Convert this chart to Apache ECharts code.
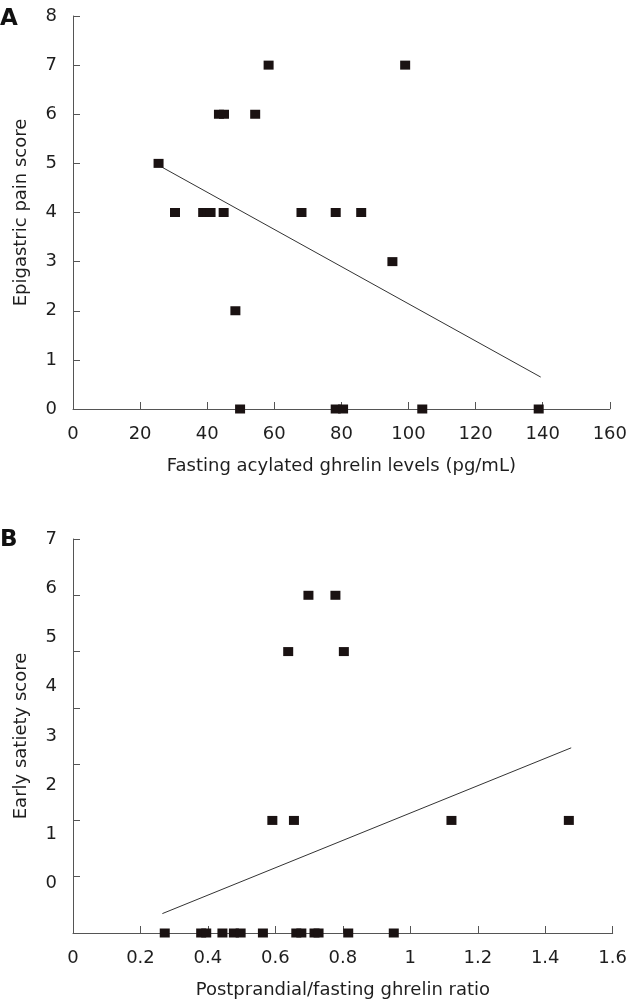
<!DOCTYPE html>
<html><head><meta charset="utf-8">
<script src="https://cdn.jsdelivr.net/npm/echarts@6/dist/echarts.min.js"></script>
<style>html,body{margin:0;padding:0;background:#fff}#c{width:630px;height:1001px}</style>
</head><body><div id="c"></div>
<script>
// Panel A: fasting acylated ghrelin (pg/mL) vs epigastric pain score
const pointsA = [
  [25.5,5],[30.4,4],[38.8,4],[40,4],[41,4],[44.9,4],[43.5,6],[45,6],[54.3,6],[58.3,7],
  [68.1,4],[48.4,2],[49.8,0],[78.3,4],[85.9,4],[99.0,7],[95.2,3],[78.3,0],[80.5,0],[104.1,0],[138.8,0]
];
const fitA = [[25.8,4.95],[139.4,0.65]];
const xTicksA = {min:0,max:160,interval:20};
const yTicksA = {min:0,max:8,interval:1};

// Panel B: postprandial/fasting ghrelin ratio vs early satiety score (plotted on tick scale)
const pointsB = [
  [0.272,0],[0.380,0],[0.395,0],[0.443,0],[0.477,0],[0.497,0],[0.563,0],[0.662,0],[0.677,0],
  [0.716,0],[0.728,0],[0.816,0],[0.951,0],
  [0.591,2],[0.655,2],[1.122,2],[1.470,2],
  [0.638,5],[0.803,5],[0.698,6],[0.778,6]
];
const fitB = [[0.265,0.345],[1.477,3.29]];
const xTicksB = {min:0,max:1.6,interval:0.2};
const yTicksB = {min:0,max:7,interval:1};
// printed y labels of panel B (misaligned with the ticks in the original)
const yLabelAxisB = {min:-1,max:7,interval:1};
const yLabelsB = ['0','1','2','3','4','5','6','7'];

const FONT = 'DejaVu Sans';
const axisColor = '#555';
const txt = '#1e1e1e';

function xAxis(grid, t, name){
  return {type:'value', gridIndex:grid, min:t.min, max:t.max, interval:t.interval,
    name:name, nameLocation:'middle', nameGap:48,
    nameTextStyle:{fontFamily:FONT,fontSize:18,color:txt},
    axisLine:{show:true,lineStyle:{color:axisColor,width:1}},
    axisTick:{show:true,inside:true,length:7,lineStyle:{color:axisColor}},
    axisLabel:{fontFamily:FONT,fontSize:18,color:txt,margin:16},
    splitLine:{show:false}};
}
function yAxis(grid, t, name, showLabel){
  return {type:'value', gridIndex:grid, min:t.min, max:t.max, interval:t.interval,
    name:name, nameLocation:'middle', nameGap:43,
    nameTextStyle:{fontFamily:FONT,fontSize:18,color:txt},
    axisLine:{show:true,lineStyle:{color:axisColor,width:1}},
    axisTick:{show:true,inside:true,length:7,lineStyle:{color:axisColor}},
    axisLabel:{show:showLabel,fontFamily:FONT,fontSize:18,color:txt,margin:16},
    splitLine:{show:false}};
}

const chart = echarts.init(document.getElementById('c'), null, {renderer:'canvas'});
const yB = yAxis(1, yTicksB, 'Early satiety score', false);
const yBLabels = {type:'value', gridIndex:1, min:yLabelAxisB.min, max:yLabelAxisB.max, interval:yLabelAxisB.interval,
  position:'left', axisLine:{show:false}, axisTick:{show:false}, splitLine:{show:false},
  axisLabel:{fontFamily:FONT,fontSize:18,color:txt,margin:16,
    formatter:v=> (v>=0 ? yLabelsB[v] : '')}};

const marker = {symbol:'rect',symbolSize:[10,9],itemStyle:{color:'#1a1212',opacity:1},z:2};

chart.setOption({
  animation:false,
  backgroundColor:'#fff',
  grid:[
    {left:73,right:17,top:16,height:393},
    {left:73,right:17,top:539,height:394}
  ],
  xAxis:[xAxis(0,xTicksA,'Fasting acylated ghrelin levels (pg/mL)'), xAxis(1,xTicksB,'Postprandial/fasting ghrelin ratio')],
  yAxis:[yAxis(0,yTicksA,'Epigastric pain score',true), yB, yBLabels],
  graphic:[
    {type:'text',left:0,top:8,style:{text:'A',font:'bold 23px "DejaVu Sans"',fill:'#111'}},
    {type:'text',left:0,top:529,style:{text:'B',font:'bold 23px "DejaVu Sans"',fill:'#111'}}
  ],
  series:[
    {type:'line',xAxisIndex:0,yAxisIndex:0,data:fitA,symbol:'none',lineStyle:{color:'#333',width:1},z:1},
    Object.assign({type:'scatter',xAxisIndex:0,yAxisIndex:0,data:pointsA},marker),
    {type:'line',xAxisIndex:1,yAxisIndex:1,data:fitB,symbol:'none',lineStyle:{color:'#333',width:1},z:1},
    Object.assign({type:'scatter',xAxisIndex:1,yAxisIndex:1,data:pointsB},marker)
  ]
});
</script></body></html>
